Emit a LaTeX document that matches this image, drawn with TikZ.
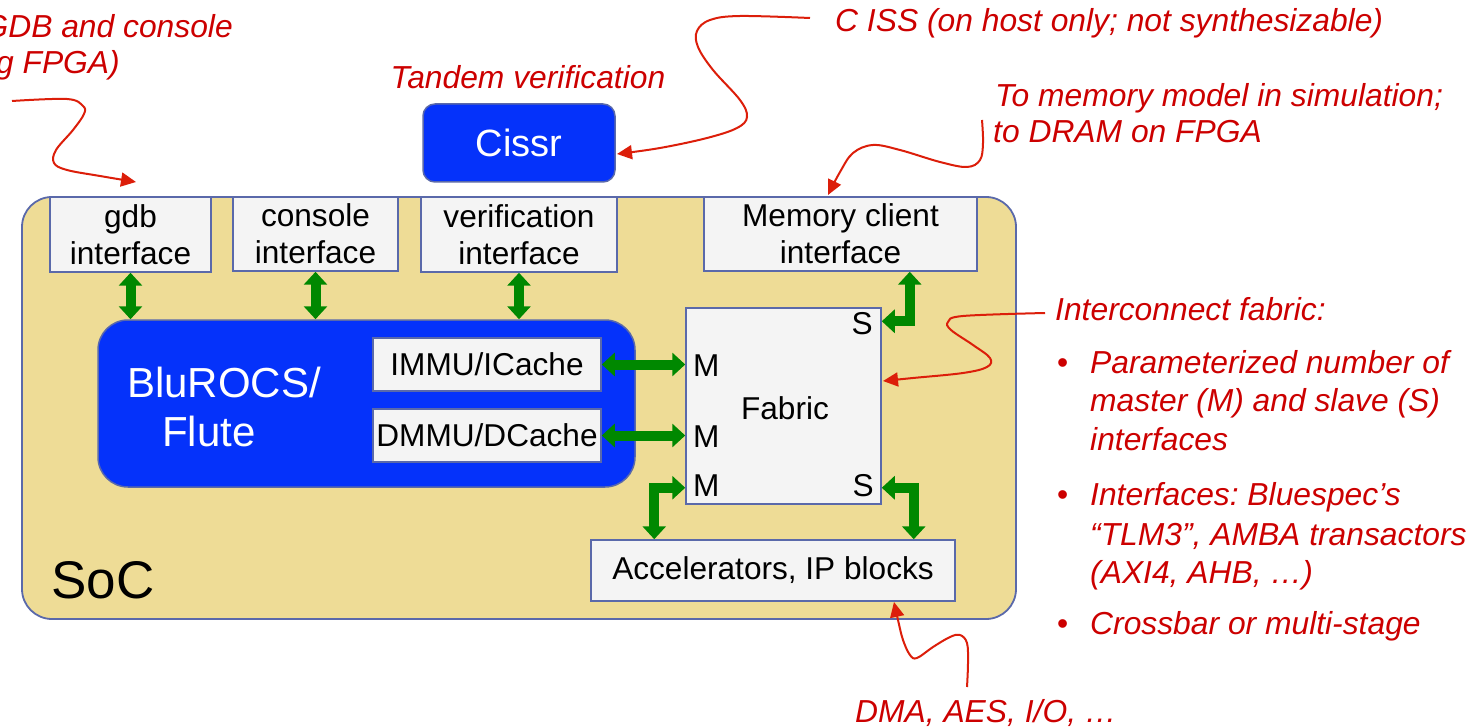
\documentclass[tikz,border=0pt]{standalone}
\usepackage{fontspec}
\setmainfont{Liberation Sans}
\usetikzlibrary{arrows.meta,calc}
\definecolor{socfill}{RGB}{238,220,150}
\definecolor{bord}{RGB}{90,105,170}
\definecolor{boxf}{RGB}{244,244,244}
\definecolor{cpublue}{RGB}{5,50,250}
\definecolor{gr}{RGB}{0,136,0}
\definecolor{annred}{RGB}{204,0,0}
\definecolor{curvered}{RGB}{220,30,10}
\frenchspacing
\begin{document}
\begin{tikzpicture}[x=1pt,y=-1pt,
  socbox/.style={draw=bord, fill=socfill, line width=1.8pt, rounded corners=30pt, inner sep=0pt},
  box/.style={draw=bord, fill=boxf, line width=1.5pt, inner sep=0pt, align=center, font=\fontsize{31.6}{37}\selectfont},
  bluebox/.style={draw=bord, fill=cpublue, line width=1.5pt, inner sep=0pt},
  lbl/.style={inner sep=0pt, font=\fontsize{31.6}{37}\selectfont},
  ann/.style={inner sep=0pt, text=annred, align=left, font=\fontsize{31.8}{38.5}\selectfont\itshape},
  garrow/.style={draw=gr, line width=10pt, line join=miter,
     {Triangle[width=23pt,length=13pt]}-{Triangle[width=23pt,length=13pt]}},
  rcurve/.style={draw=curvered, line width=2pt, -{Triangle[width=14pt,length=15pt]}}
]
\useasboundingbox (0,0) rectangle (1480,727);
\clip (0,0) rectangle (1480,727);

% SoC
\node[socbox, minimum width=994pt, minimum height=422pt] (soc) at (519,408) {};
\node[lbl, font=\fontsize{53}{60}\selectfont] (soclabel) at (103,580) {SoC};

% interface boxes
\node[box, minimum width=161pt, minimum height=75pt] (gdb) at (130.5,234.5) {gdb\\interface};
\node[box, minimum width=165pt, minimum height=74pt] (console) at (315.5,234) {console\\interface};
\node[box, minimum width=196pt, minimum height=75pt] (verif) at (519,234.5) {verification\\interface};
\node[box, minimum width=273pt, minimum height=74pt] (mem) at (840.5,234) {Memory client\\interface};

% Cissr
\node[bluebox, rounded corners=12pt, minimum width=192pt, minimum height=78pt, text=white,
      font=\fontsize{38}{42}\selectfont] (cissr) at (519,143) {Cissr};

% CPU
\node[bluebox, rounded corners=30pt, minimum width=537pt, minimum height=167pt] (cpu) at (366.5,403.5) {};
\node[lbl, text=white, font=\fontsize{42}{46}\selectfont] (cpul1) at (224,382) {BluROCS/};
\node[lbl, text=white, font=\fontsize{42}{46}\selectfont] (cpul2) at (209,431) {Flute};
\node[box, minimum width=228pt, minimum height=53pt] (immu) at (487,364.5) {IMMU/ICache};
\node[box, minimum width=228pt, minimum height=53pt] (dmmu) at (487,435.5) {DMMU/DCache};

% Fabric
\node[box, minimum width=195pt, minimum height=196pt] (fabric) at (783.5,406) {};
\node[lbl] (fabtxt) at (785,408) {Fabric};
\node[lbl, anchor=west] (m1) at (693,366) {M};
\node[lbl, anchor=west] (m2) at (693,437) {M};
\node[lbl, anchor=west] (m3) at (693,486) {M};
\node[lbl, anchor=east] (s1) at (873,324) {S};
\node[lbl, anchor=east] (s2) at (874,486) {S};

% Accelerators
\node[box, minimum width=364pt, minimum height=61pt] (accel) at (773,570.5) {Accelerators, IP blocks};

% green connectors
\draw[garrow] (gdb.south) -- (gdb.south |- cpu.north);
\draw[garrow] (console.south) -- (console.south |- cpu.north);
\draw[garrow] (verif.south) -- (verif.south |- cpu.north);
\draw[garrow] (immu.east) -- (immu.east -| fabric.west);
\draw[garrow] (dmmu.east) -- (dmmu.east -| fabric.west);
\coordinate (memA) at ($(mem.south east)+(-68,0)$);
\coordinate (fS1) at ($(fabric.north east)+(0,14)$);
\draw[garrow] (memA) |- (fS1);
\coordinate (accM) at ($(accel.north west)+(64,0)$);
\coordinate (fM3) at ($(fabric.south west)+(0,-17)$);
\draw[garrow] (accM) |- (fM3);
\coordinate (fS2) at ($(fabric.south east)+(0,-17)$);
\coordinate (accS) at ($(accel.north east)+(-42,0)$);
\draw[garrow] (fS2) -| (accS);

% annotations
\node[ann, anchor=base east] (gdbnote1) at (233,38) {GDB and console};
\node[ann, anchor=base east] (gdbnote2) at (120,74) {g FPGA)};
\node[ann, anchor=base] (tandem) at (528,89) {Tandem verification};
\node[ann, anchor=base west] (cissnote) at (835,32) {C ISS (on host only; not synthesizable)};
\node[ann, anchor=base west] (memnote1) at (995,107) {To memory model in simulation;};
\node[ann, anchor=base west] (memnote2) at (993,143) {to DRAM on FPGA};
\node[ann, anchor=base west] (icnote) at (1055,320) {Interconnect fabric:};
\node[ann, anchor=base west] (bul1) at (1057,373) {\textup{•}};
\node[ann, anchor=base west] (b1) at (1090,373) {Parameterized number of};
\node[ann, anchor=base west] (b1b) at (1090,411) {master (M) and slave (S)};
\node[ann, anchor=base west] (b1c) at (1090,450) {interfaces};
\node[ann, anchor=base west] (bul2) at (1057,505) {\textup{•}};
\node[ann, anchor=base west] (b2) at (1090,505) {Interfaces: Bluespec’s};
\node[ann, anchor=base west] (b2b) at (1090,545) {“TLM3”, AMBA transactors};
\node[ann, anchor=base west] (b2c) at (1090,583) {(AXI4, AHB, …)};
\node[ann, anchor=base west] (bul3) at (1057,634) {\textup{•}};
\node[ann, anchor=base west] (b3) at (1090,634) {Crossbar or multi-stage};
\node[ann, anchor=base west] (dmanote) at (855,722) {DMA, AES, I/O, …};

% red curves
\coordinate (c1s) at (12,101);
\coordinate (c1e) at (136,182);
\draw[rcurve] plot[smooth, tension=0.6] coordinates {(c1s) (67,99) (83,106) (84,114) (73,130) (56,150) (54,163) (67,170) (100,176) (c1e)};
\coordinate (c2s) at (810,18);
\coordinate (c2e) at (617,154);
\draw[rcurve] plot[smooth, tension=0.6] coordinates {(c2s) (740,16) (710,20) (697,31) (698,47) (713,70) (740,100) (747,117) (737,128) (707,138) (660,148) (c2e)};
\coordinate (c3s) at (982,120);
\coordinate (c3e) at (828,195);
\draw[rcurve] plot[smooth, tension=0.6] coordinates {(c3s) (983,143) (980,160) (967,167) (940,162) (900,150) (873,145) (853,153) (840,172) (c3e)};
\coordinate (c4s) at (1045,313);
\coordinate (c4e) at (883,381);
\draw[rcurve] plot[smooth, tension=0.6] coordinates {(c4s) (963,316) (948,322) (951,330) (973,345) (990,358) (987,367) (963,373) (913,378) (c4e)};
\coordinate (c5s) at (967,687);
\coordinate (c5e) at (894,602);
\draw[rcurve] plot[smooth, tension=0.6] coordinates {(c5s) (968,663) (967,643) (960,635) (950,637) (933,647) (917,658) (910,655) (903,640) (898,620) (c5e)};
\end{tikzpicture}
\end{document}
